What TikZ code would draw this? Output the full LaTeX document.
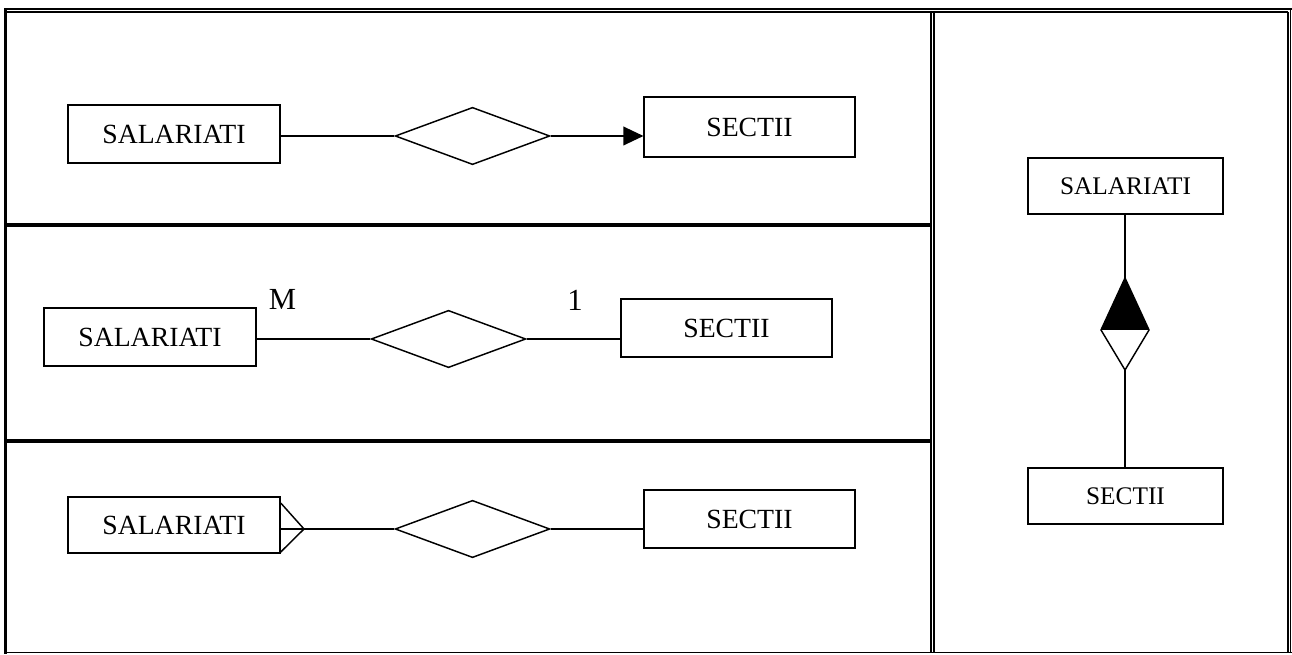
\documentclass[tikz,border=0pt]{standalone}
\usepackage{fontspec}
\setmainfont{Liberation Serif}
\usetikzlibrary{shapes.geometric,arrows.meta,calc}
\begin{document}
\begin{tikzpicture}[x=0.75pt,y=-0.75pt,
  entity/.style={draw, line width=1.1pt, minimum width=159pt, minimum height=43.5pt, inner sep=0pt, font=\fontsize{20.8}{24}\selectfont},
  rel/.style={draw, diamond, line width=1.1pt, minimum width=116pt, minimum height=43pt, inner sep=0pt},
  conn/.style={line width=1.1pt},
  card/.style={font=\fontsize{23}{27}\selectfont, inner sep=0pt},
  thinrule/.style={line width=0.9pt},
  thickrule/.style={line width=3pt}]
\useasboundingbox (0,0) rectangle (1292,655);
% frame
\draw[line width=1.6pt] (4,9) -- (1291.5,9);
\draw[thinrule] (7,12) -- (1288,12);
\draw[line width=2.6pt] (5.5,8.2) -- (5.5,654);
\draw[thinrule] (4,652.7) -- (1291.5,652.7);
\draw[thinrule] (1288,12) -- (1288,652.7);
\draw[thinrule] (1290.7,9) -- (1290.7,653.2);
\draw[line width=1.2pt] (931,12) -- (931,652.7);
\draw[line width=1.2pt] (934,12) -- (934,652.7);
\draw[thickrule] (7,225) -- (931,225);
\draw[thickrule] (7,441) -- (931,441);
% panel 1
\node[entity] (s1) at (174,134) {SALARIATI};
\node[rel] (d1) at (472.5,136) {};
\node[entity, minimum width=158pt, minimum height=45pt] (t1) at (749.5,127) {SECTII};
\draw[conn] (s1.east |- d1.west) -- (d1.west);
\draw[conn, -{Triangle[length=15pt,width=14pt]}] (d1.east) -- (t1.west |- d1.east);
% panel 2
\node[entity] (s2) at (150,337) {SALARIATI};
\node[rel] (d2) at (448.5,339) {};
\node[entity, minimum width=158pt] (t2) at (726.5,328) {SECTII};
\draw[conn] (s2.east |- d2.west) -- (d2.west);
\draw[conn] (d2.east) -- (t2.west |- d2.east);
\node[card] (m) at (282.5,299.5) {M};
\node[card] (one) at (575,300) {1};
% panel 3
\node[entity, minimum height=42pt] (s3) at (174,525) {SALARIATI};
\node[rel] (d3) at (472.5,529) {};
\node[entity, minimum width=158pt] (t3) at (749.5,519) {SECTII};
\coordinate (cf) at (304,529);
\draw[conn] (s3.east |- d3.west) -- (d3.west);
\draw[conn] (d3.east) -- (t3.west |- d3.east);
\draw[conn] ($(s3.east)+(0,-22)$) -- (cf) -- ($(s3.east)+(0,27)$);
% right panel
\node[entity, minimum width=146pt, minimum height=42pt, font=\fontsize{19}{22}\selectfont] (s4) at (1125.5,186) {SALARIATI};
\node[entity, minimum width=146pt, minimum height=42pt, font=\fontsize{19}{22}\selectfont] (t4) at (1125.5,496) {SECTII};
\coordinate (dt) at (1125,278);
\coordinate (dl) at (1101,330);
\coordinate (dr) at (1149,330);
\coordinate (db) at (1125,370);
\fill (dt) -- (dr) -- (dl) -- cycle;
\draw[conn, line join=miter] (dt) -- (dr) -- (db) -- (dl) -- cycle;
\draw[conn] (s4.south -| dt) -- (dt);
\draw[conn] (db) -- (t4.north -| db);
\end{tikzpicture}
\end{document}
